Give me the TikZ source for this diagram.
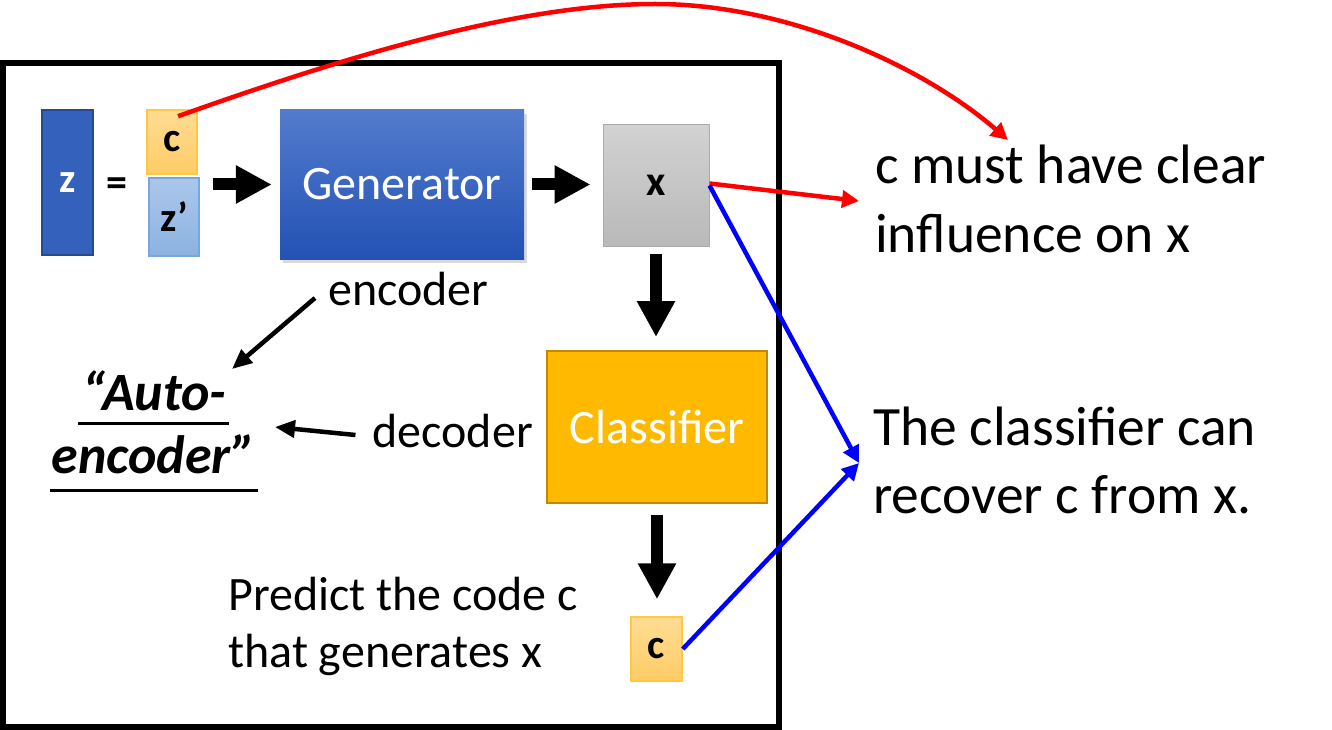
\documentclass[tikz,border=0pt]{standalone}
\usepackage{fontspec}
\setmainfont{Carlito}
\usetikzlibrary{arrows.meta,calc,shadows}
\definecolor{zfill}{HTML}{3361BC}
\definecolor{zdraw}{HTML}{27498F}
\definecolor{ctop}{HTML}{FFDC94}
\definecolor{cbot}{HTML}{FFCC66}
\definecolor{cdraw}{HTML}{FFC83D}
\definecolor{zptop}{HTML}{ABC7EB}
\definecolor{zpbot}{HTML}{8CB2E1}
\definecolor{zpdraw}{HTML}{78A7DE}
\definecolor{gtop}{HTML}{527BCC}
\definecolor{gbot}{HTML}{2352B5}
\definecolor{xtop}{HTML}{D2D2D2}
\definecolor{xbot}{HTML}{B9B9B9}
\definecolor{xdraw}{HTML}{ABABAB}
\definecolor{clsfill}{HTML}{FFBA00}
\definecolor{clsdraw}{HTML}{C08A00}
\newcommand{\fs}[2]{\fontsize{#1}{#2}\selectfont}
\tikzset{
  box/.style={rectangle, inner sep=0pt},
  codebox/.style={box, top color=ctop, bottom color=cbot, draw=cdraw, line width=1.5pt,
    minimum width=50pt, minimum height=64pt, font=\fs{41}{48}\bfseries},
  lbl/.style={inner sep=0pt, anchor=base west, font=\fs{48}{56}},
  big/.style={inner sep=0pt, anchor=base west, font=\fs{55.5}{68}},
  blockarrow/.style={line width=12pt, -{Triangle[length=36pt,width=36pt]}},
  thinarrow/.style={line width=4.5pt, -{Triangle[length=20pt,width=17pt]}},
  redarrow/.style={line width=4.5pt, red, -{Triangle[length=17pt,width=17pt]}},
  bluearrow/.style={line width=4.5pt, blue, -{Triangle[length=17pt,width=17pt]}},
  autofont/.style={inner sep=0pt, anchor=base, font=\fs{54}{60}\bfseries\itshape},
}
\begin{document}
\begin{tikzpicture}[x=1pt,y=-1pt]
\useasboundingbox (0,0) rectangle (1332,730);
\draw[line width=6pt] (3,63) rectangle (779,727);

\node[box, fill=zfill, draw=zdraw, line width=2pt, minimum width=51pt, minimum height=145pt,
  text=white, font=\fs{41}{48}\bfseries] (z) at (67.5,182.5) {z};
\node[inner sep=0pt, font=\fs{42}{48}\bfseries] (eq) at (117,187) {=};
\node[codebox] (c) at (172,142) {c};
\node[box, top color=zptop, bottom color=zpbot, draw=zpdraw, line width=1.5pt,
  minimum width=50pt, minimum height=78pt, font=\fs{41}{48}\bfseries] (zp) at (174,217) {z’};
\node[box, top color=gtop, bottom color=gbot, minimum width=244pt, minimum height=149pt,
  text=white, font=\fs{48}{56},
  drop shadow={shadow xshift=3pt, shadow yshift=-4pt, opacity=0.3}] (gen) at (402,184.5) {Generator};
\node[box, top color=xtop, bottom color=xbot, draw=xdraw, line width=1pt,
  minimum width=106pt, minimum height=121pt, font=\fs{42}{48}\bfseries] (x) at (656,185.5) {x};
\node[box, fill=clsfill, draw=clsdraw, line width=2pt, minimum width=220pt, minimum height=152pt,
  text=white, font=\fs{48}{56}] (cls) at (657,427) {Classifier};
\node[codebox, minimum width=51pt] (cout) at (656.5,649) {c};

\node[lbl] (enc) at (328,305) {encoder};
\node[lbl, anchor=base east] (dec) at (533,447) {decoder};
\node[lbl] (pred1) at (228,610) {Predict the code c};
\node[lbl] (pred2) at (228,667) {that generates x};

\node[autofont] (auto1) at (154.5,410) {“Auto-};
\node[autofont] (auto2) at (154,473) {encoder”};
\draw[line width=3pt] ($(auto1.base west)+(-4,13)$) -- ($(auto1.base east)+(2,13)$);
\draw[line width=3pt] ($(auto2.base west)+(-1,17)$) -- ($(auto2.base east)+(1,17)$);

\node[big] (rt1) at (875,184) {c must have clear};
\node[big] (rt2) at (875,252) {influence on x};
\node[big] (rt3) at (873,445) {The classifier can};
\node[big] (rt4) at (873,513) {recover c from x.};

\coordinate (tipTop) at (1008,140);
\coordinate (tipA) at (859,201);
\coordinate (tipB) at (859,463);

% block arrows
\draw[blockarrow, shorten <=13pt, shorten >=8pt] (zp.east |- gen.west) -- (gen.west);
\draw[blockarrow, shorten <=8pt, shorten >=12pt] (gen.east) -- (x.west |- gen.east);
\draw[blockarrow, shorten <=7pt, shorten >=13pt] (x.south) -- (x.south |- cls.north);
\draw[blockarrow, shorten <=11pt, shorten >=17pt] (cls.south) -- (cls.south |- cout.north);

% encoder / decoder arrows
\draw[thinarrow] ($(enc.base west)+(-13,-7)$) -- (232,369);
\draw[thinarrow] ($(dec.base west)+(-17,-12)$) -- (275,427);

% red
\draw[redarrow] ($(c.north)+(6,7)$) .. controls (350,55) and (520,4) .. (655,4)
   .. controls (790,4) and (925,68) .. (tipTop);
\draw[redarrow] ($(x.east)+(0,-2)$) -- (tipA);
% blue
\draw[bluearrow] (x.east) -- (tipB);
\draw[bluearrow] (cout.east) -- (tipB);
\end{tikzpicture}
\end{document}
